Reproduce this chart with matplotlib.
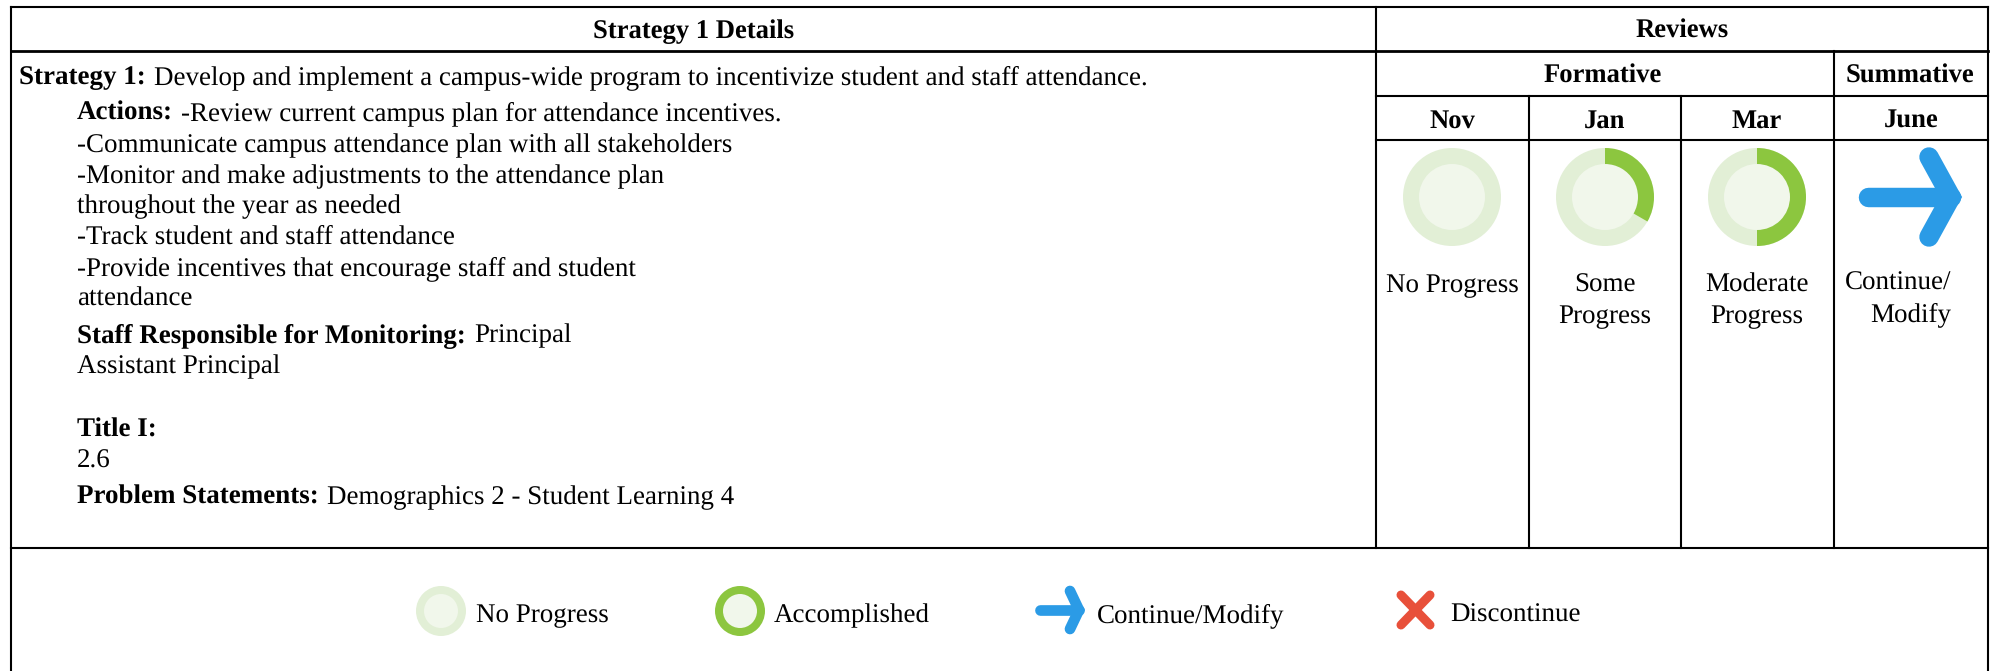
import matplotlib
matplotlib.use('Agg')
import matplotlib.pyplot as plt
from matplotlib.patches import Circle, Wedge

plt.rcParams['font.family'] = ['Liberation Serif', 'DejaVu Serif']
plt.rcParams['text.hinting'] = 'none'

W, H = 1997, 671
FS = 19.45
FS_HEAD = 19.2
BLACK = '#000000'
LIGHT = '#E2EFD6'
PALE = '#F1F7EB'
GREEN = '#8CC63F'
BLUE = '#2B9BE6'
RED = '#E8503A'

header_left = 'Strategy 1 Details'
header_right = 'Reviews'
header_groups = ['Formative', 'Summative']
months = ['Nov', 'Jan', 'Mar', 'June']
progress = [0, 1 / 3, 1 / 2]
progress_labels = [['No Progress'], ['Some', 'Progress'], ['Moderate', 'Progress']]
legend_labels = ['No Progress', 'Accomplished', 'Continue/Modify', 'Discontinue']

# (indent, baseline, bold part, regular part)
body_lines = [
    (19, 84, 'Strategy 1:', 'Develop and implement a campus-wide program to incentivize student and staff attendance.'),
    (77, 120, 'Actions:', '-Review current campus plan for attendance incentives.'),
    (77, 152, '', '-Communicate campus attendance plan with all stakeholders'),
    (77, 183, '', '-Monitor and make adjustments to the attendance plan'),
    (77, 213, '', 'throughout the year as needed'),
    (77, 244, '', '-Track student and staff attendance'),
    (77, 275, '', '-Provide incentives that encourage staff and student'),
    (77, 306, '', 'attendance'),
    (77, 342, 'Staff Responsible for Monitoring:', 'Principal'),
    (77, 373, '', 'Assistant Principal'),
    (77, 437, 'Title I:', ''),
    (77, 468, '', '2.6'),
    (77, 504, 'Problem Statements:', 'Demographics 2 - Student Learning 4'),
]

col_x = [1376, 1529, 1681, 1834, 1988]
col_mid = [1452, 1605, 1757, 1911]
row_y = [7, 51, 96, 140, 548]


def mixed_text(ax, x, y, bold, regular):
    if bold:
        t = ax.text(x, y, bold, fontsize=FS, fontweight='bold', va='baseline', color=BLACK)
        box = t.get_window_extent(renderer=ax.figure.canvas.get_renderer())
        x = box.x1 + 8
    if regular:
        ax.text(x, y, regular, fontsize=FS, va='baseline', color=BLACK)


def ring(ax, cx, cy, r_out, r_in, frac, full_color=LIGHT):
    ax.add_patch(Circle((cx, cy), r_out, fc=full_color, ec='none'))
    ax.add_patch(Circle((cx, cy), r_in, fc=PALE, ec='none'))
    if frac > 0:
        ax.add_patch(Wedge((cx, cy), r_out, -90, -90 + 360 * frac, width=r_out - r_in, fc=GREEN, ec='none'))


def arrow(ax, x0, x1, xh, cy, hh, lw):
    ax.plot([x0, x1], [cy, cy], color=BLUE, lw=lw, solid_capstyle='round')
    ax.plot([xh, x1, xh], [cy - hh, cy, cy + hh], color=BLUE, lw=lw,
            solid_capstyle='round', solid_joinstyle='miter')


fig = plt.figure(figsize=(W / 100, H / 100), dpi=100)
ax = fig.add_axes([0, 0, 1, 1])
ax.set_xlim(0, W)
ax.set_ylim(H, 0)
ax.axis('off')

# table rules
lw = 1.5
ax.plot([11, 11], [row_y[0], H], color=BLACK, lw=lw)
ax.plot([col_x[-1], col_x[-1]], [row_y[0], H], color=BLACK, lw=lw)
ax.plot([11, col_x[-1]], [row_y[0], row_y[0]], color=BLACK, lw=lw)
ax.plot([11, col_x[-1]], [row_y[1], row_y[1]], color=BLACK, lw=2)
ax.plot([11, col_x[-1]], [row_y[4], row_y[4]], color=BLACK, lw=lw)
ax.plot([col_x[0], col_x[0]], [row_y[0], row_y[4]], color=BLACK, lw=lw)
ax.plot([col_x[0], col_x[-1]], [row_y[2], row_y[2]], color=BLACK, lw=lw)
ax.plot([col_x[0], col_x[-1]], [row_y[3], row_y[3]], color=BLACK, lw=lw)
ax.plot([col_x[3], col_x[3]], [row_y[1], row_y[4]], color=BLACK, lw=lw)
for x in col_x[1:3]:
    ax.plot([x, x], [row_y[2], row_y[4]], color=BLACK, lw=lw)

# headers
ax.text((11 + col_x[0]) / 2, 38, header_left, fontsize=FS_HEAD, fontweight='bold', ha='center', va='baseline')
ax.text((col_x[0] + col_x[-1]) / 2, 38, header_right, fontsize=FS_HEAD, fontweight='bold', ha='center', va='baseline')
ax.text(1603, 83, header_groups[0], fontsize=FS_HEAD, fontweight='bold', ha='center', va='baseline')
ax.text(1910, 83, header_groups[1], fontsize=FS_HEAD, fontweight='bold', ha='center', va='baseline')
for xm, m in zip(col_mid, months):
    ax.text(xm, 128, m, fontsize=FS_HEAD, fontweight='bold', ha='center', va='baseline')

# left cell text
for indent, base, bold, regular in body_lines:
    mixed_text(ax, indent, base, bold, regular)

# progress rings
for xm, frac, labels in zip(col_mid, progress, progress_labels):
    ring(ax, xm, 197, 49, 33, frac)
    for i, s in enumerate(labels):
        ax.text(xm, 292 + i * 31, s, fontsize=FS, ha='center', va='baseline')

# summative arrow
arrow(ax, 1868, 1951, 1929, 197, 40, 14)
ax.text(1845, 290, 'Continue/', fontsize=FS, va='baseline')
ax.text(1870, 321, 'Modify', fontsize=FS, va='baseline')

# legend
ring(ax, 441, 611, 25, 17, 0)
ring(ax, 740, 611, 25, 17, 0, full_color=GREEN)
arrow(ax, 1040, 1079, 1070, 610, 19, 7.7)
ax.plot([1401, 1430], [595, 625], color=RED, lw=6.5, solid_capstyle='round')
ax.plot([1430, 1401], [595, 625], color=RED, lw=6.5, solid_capstyle='round')
for x, s in zip([476, 774, 1097, 1450], legend_labels):
    ax.text(x, 622, s, fontsize=FS, va='baseline')

fig.savefig('out.png', dpi=100)
